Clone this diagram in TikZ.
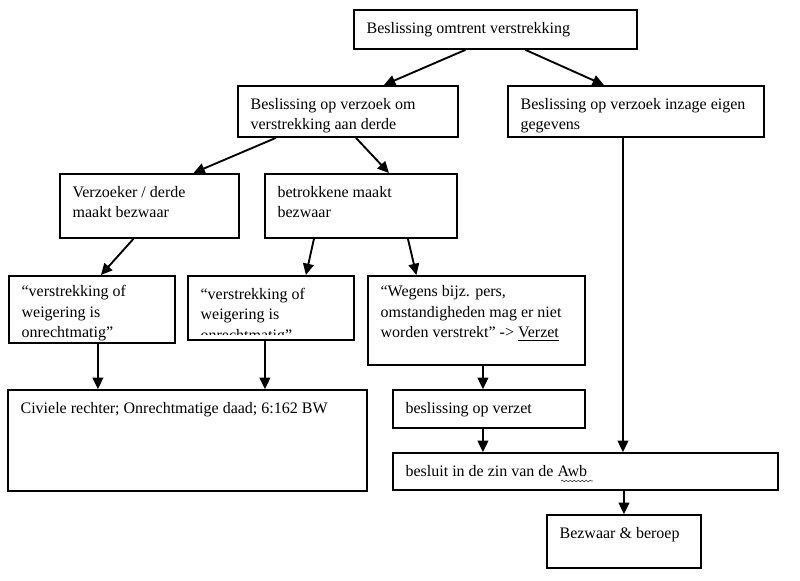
\documentclass[tikz,border=0pt]{standalone}
\usepackage{fontspec}
\setmainfont{Liberation Serif}
\usetikzlibrary{arrows.meta,decorations.pathmorphing}

\begin{document}
\begin{tikzpicture}[
  x=0.75pt,y=-0.75pt,
  box/.style={draw,line width=1.4pt,anchor=north west,inner sep=0pt},
  txt/.style={anchor=north west,align=left,inner xsep=10pt,inner ysep=9.5pt,
              font=\fontsize{12}{15.5}\selectfont},
  flow/.style={-{Triangle[length=8.5pt,width=8pt]},line width=1.4pt},
  squiggle/.style={decorate,decoration={snake,amplitude=0.6pt,segment length=3pt},
                   line width=0.5pt,black!70}
]
\useasboundingbox (0,0) rectangle (800,581);
% boxes
\node[box,minimum width=212.25pt,minimum height=29.25pt,
      label={[txt]north west:{Beslissing omtrent verstrekking}}] (besl) at (353,9) {};
\node[box,minimum width=165pt,minimum height=38.25pt,
      label={[txt]north west:{Beslissing op verzoek om\\verstrekking aan derde}}] (derde) at (237,85) {};
\node[box,minimum width=192pt,minimum height=38.25pt,
      label={[txt]north west:{Beslissing op verzoek inzage eigen\\gegevens}}] (inzage) at (507,85) {};
\node[box,minimum width=134.25pt,minimum height=48pt,
      label={[txt]north west:{Verzoeker / derde\\maakt bezwaar}}] (verzoeker) at (59,173) {};
\node[box,minimum width=144pt,minimum height=48pt,
      label={[txt]north west:{betrokkene maakt\\bezwaar}}] (betrokkene) at (264,173) {};
\node[box,minimum width=124.5pt,minimum height=50.25pt,
      label={[txt,inner ysep=7.5pt]north west:{“verstrekking of\\weigering is\\onrechtmatig”}}] (onrecht1) at (8,275) {};
\node[box,minimum width=124.5pt,minimum height=48pt] (onrecht2) at (187,275) {};
\begin{scope}
  \clip (onrecht2.north west) rectangle ([shift={(0,-6)}]onrecht2.south east);
  \node[txt] (onrecht2-txt) at (onrecht2.north west) {“verstrekking of\\weigering is\\onrechtmatig”};
\end{scope}
\node[box,minimum width=162.75pt,minimum height=66.75pt,
      label={[txt,inner ysep=7.5pt]north west:{“Wegens bijz. pers,\\omstandigheden mag er niet\\worden verstrekt” -> \underline{Verzet}}}] (wegens) at (367,275) {};
\node[box,minimum width=269.25pt,minimum height=75.75pt,
      label={[txt]north west:{Civiele rechter; Onrechtmatige daad; 6:162 BW}}] (civiel) at (7,389) {};
\node[box,minimum width=144pt,minimum height=28.5pt,
      label={[txt]north west:{beslissing op verzet}}] (verzet) at (392,389) {};
\node[box,minimum width=288.75pt,minimum height=27.75pt,
      label={[txt]north west:{besluit in de zin van de Awb}}] (awb) at (392,452) {};
\node[box,minimum width=115.5pt,minimum height=39.75pt,
      label={[txt]north west:{Bezwaar \& beroep}}] (beroep) at (546,514) {};
\draw[squiggle] ([shift={(169,29)}]awb.north west) -- ([shift={(201,29)}]awb.north west);
% arrows
\draw[flow] ([shift={(-30,0)}]besl.south) -- ([shift={(36,0)}]derde.north);
\draw[flow] ([shift={(30,0)}]besl.south) -- ([shift={(-32,0)}]inzage.north);
\draw[flow] ([shift={(-72,0)}]derde.south) -- ([shift={(44,0)}]verzoeker.north);
\draw[flow] ([shift={(8,0)}]derde.south) -- ([shift={(28,0)}]betrokkene.north);
\draw[flow] ([shift={(-16,0)}]verzoeker.south) -- ([shift={(9,0)}]onrecht1.north);
\draw[flow] ([shift={(-47,0)}]betrokkene.south) -- ([shift={(35,0)}]onrecht2.north);
\draw[flow] ([shift={(47,0)}]betrokkene.south) -- ([shift={(-60,0)}]wegens.north);
\draw[flow] ([shift={(6,0)}]onrecht1.south) -- ([shift={(6,0)}]onrecht1.south |- civiel.north);
\draw[flow] ([shift={(-6,0)}]onrecht2.south) -- ([shift={(-6,0)}]onrecht2.south |- civiel.north);
\draw[flow] ([shift={(6.5,0)}]wegens.south) -- ([shift={(6.5,0)}]wegens.south |- verzet.north);
\draw[flow] ([shift={(-6,0)}]verzet.south) -- ([shift={(-6,0)}]verzet.south |- awb.north);
\draw[flow] ([shift={(-13,0)}]inzage.south) -- ([shift={(-13,0)}]inzage.south |- awb.north);
\draw[flow] (awb.south -| beroep.north) -- (beroep.north);
\end{tikzpicture}
\end{document}
